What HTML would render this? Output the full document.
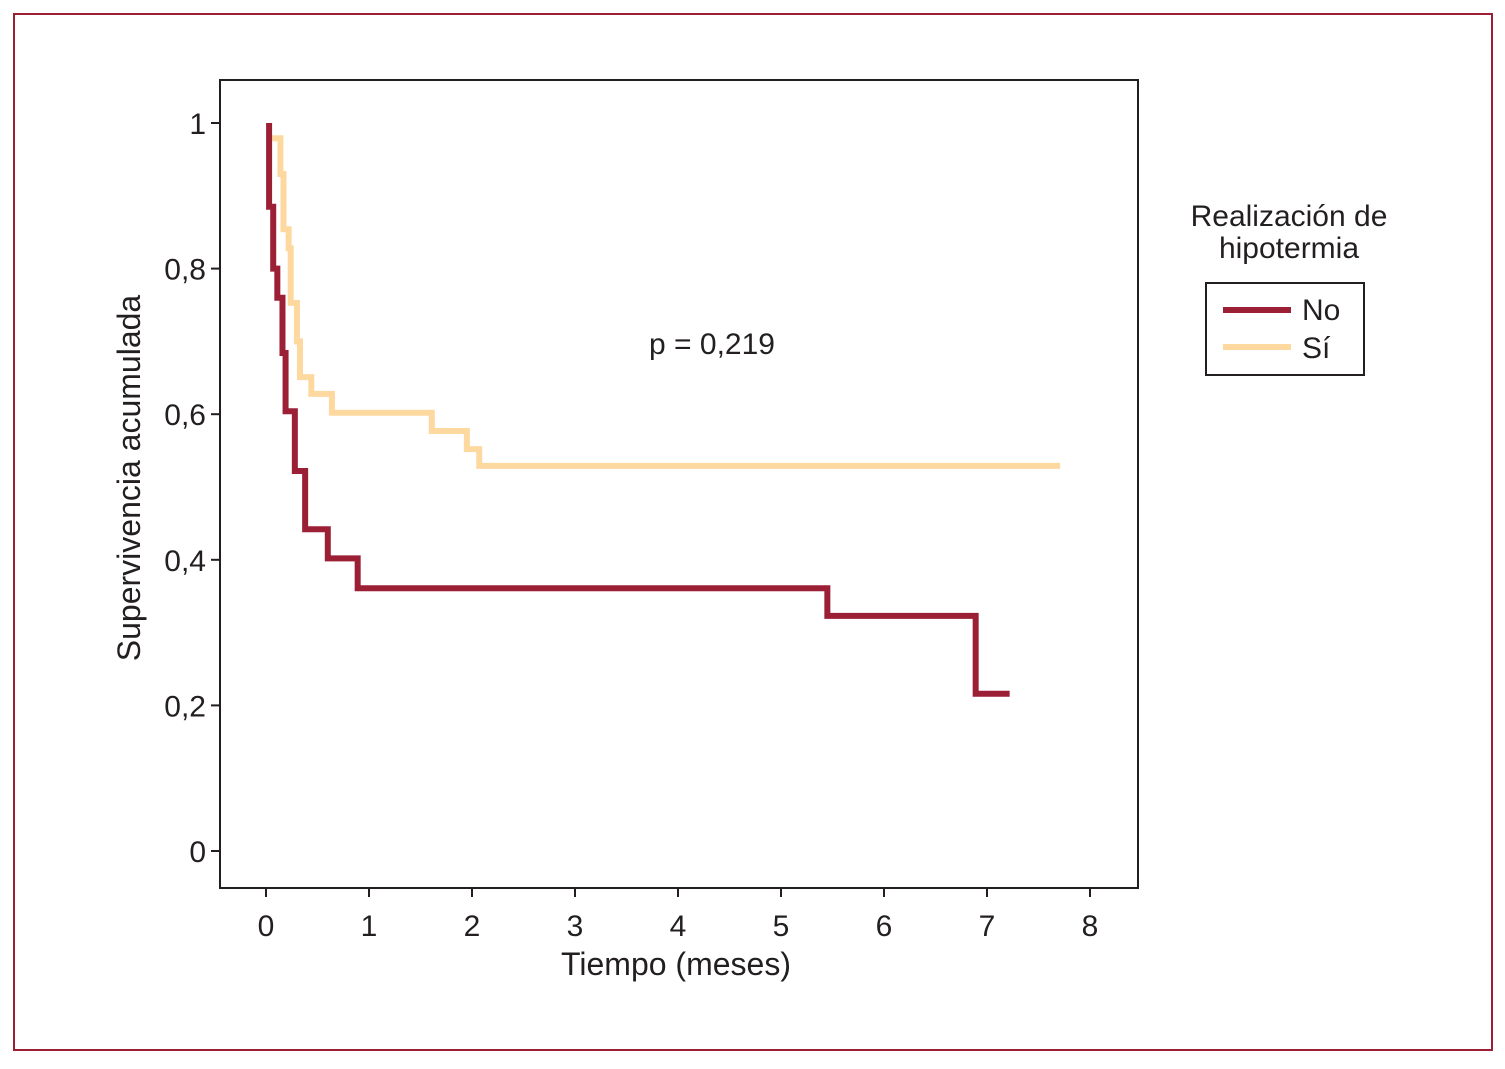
<!DOCTYPE html>
<html><head><meta charset="utf-8"><style>
html,body{margin:0;padding:0;background:#fff;}
svg text{font-family:"Liberation Sans Narrow","Liberation Sans",sans-serif;fill:#231f20;}
</style></head><body>
<svg id="chart" width="1505" height="1064" viewBox="0 0 1505 1064" xmlns="http://www.w3.org/2000/svg">
<rect x="14" y="14" width="1478" height="1036" fill="none" stroke="#9b1f35" stroke-width="2"/>
<rect x="220" y="80" width="918" height="808" fill="none" stroke="#231f20" stroke-width="2"/>
<g id="axes"></g>
<g id="series"></g>
<text x="712" y="354" font-size="30" text-anchor="middle">p = 0,219</text>
<text x="676" y="975" font-size="32" text-anchor="middle">Tiempo (meses)</text>
<text transform="translate(140,478) rotate(-90)" font-size="32" text-anchor="middle">Supervivencia acumulada</text>
<g>
<text x="1289" y="226" font-size="30" text-anchor="middle">Realización de</text>
<text x="1289" y="258" font-size="30" text-anchor="middle">hipotermia</text>
<rect x="1206" y="283" width="158" height="92" fill="none" stroke="#231f20" stroke-width="2"/>
<line x1="1223" y1="310" x2="1291" y2="310" stroke="#9b1f35" stroke-width="6"/>
<text x="1302" y="320" font-size="30">No</text>
<line x1="1223" y1="347" x2="1291" y2="347" stroke="#fdd9a0" stroke-width="6"/>
<text x="1302" y="358" font-size="30">Sí</text>
</g>
</svg>
<script>
const xTicks=[0,1,2,3,4,5,6,7,8];
const yTicks=[0,0.2,0.4,0.6,0.8,1];
const yTickLabels=["0","0,2","0,4","0,6","0,8","1"];
const noTimes=[0.03,0.03,0.07,0.11,0.16,0.19,0.28,0.38,0.6,0.89,5.45,6.89,7.22];
const noSurv=[1.0,0.885,0.80,0.76,0.684,0.604,0.522,0.442,0.402,0.361,0.323,0.216,0.216];
const siTimes=[0.06,0.14,0.17,0.22,0.24,0.30,0.33,0.44,0.64,1.61,1.95,2.07,7.71];
const siSurv=[0.979,0.93,0.854,0.828,0.753,0.70,0.651,0.628,0.602,0.577,0.552,0.529,0.529];
const NS="http://www.w3.org/2000/svg";
function xs(t){return 266+t*103;}
function ys(v){return 851-v*728;}
const axes=document.getElementById('axes');
xTicks.forEach(t=>{
 const l=document.createElementNS(NS,'line');
 l.setAttribute('x1',xs(t));l.setAttribute('x2',xs(t));l.setAttribute('y1',888);l.setAttribute('y2',897);
 l.setAttribute('stroke','#231f20');l.setAttribute('stroke-width','2');
 
 
 axes.appendChild(l);
 const tx=document.createElementNS(NS,'text');
 tx.setAttribute('x',xs(t));tx.setAttribute('y',936);tx.setAttribute('font-size','30');tx.setAttribute('text-anchor','middle');
 tx.textContent=String(t);
 
 
 axes.appendChild(tx);
});
yTicks.forEach((v,i)=>{
 const l=document.createElementNS(NS,'line');
 l.setAttribute('x1',211);l.setAttribute('x2',220);l.setAttribute('y1',ys(v));l.setAttribute('y2',ys(v));
 l.setAttribute('stroke','#231f20');l.setAttribute('stroke-width','2');
 
 
 axes.appendChild(l);
 const tx=document.createElementNS(NS,'text');
 tx.setAttribute('x',206);tx.setAttribute('y',ys(v)+11);tx.setAttribute('font-size','30');tx.setAttribute('text-anchor','end');
 tx.textContent=yTickLabels[i];
 
 
 axes.appendChild(tx);
});
function stepPath(ts,ss){
 let d='M'+xs(ts[0])+' '+ys(ss[0]);
 for(let i=1;i<ts.length;i++){
  d+=' H'+xs(ts[i])+' V'+ys(ss[i]);
 }
 return d;
}
const series=document.getElementById('series');
const pSi=document.createElementNS(NS,'path');
pSi.setAttribute('d',stepPath(siTimes,siSurv));
pSi.setAttribute('fill','none');pSi.setAttribute('stroke','#fdd9a0');pSi.setAttribute('stroke-width','6');


series.appendChild(pSi);
const pNo=document.createElementNS(NS,'path');
pNo.setAttribute('d',stepPath(noTimes,noSurv));
pNo.setAttribute('fill','none');pNo.setAttribute('stroke','#9b1f35');pNo.setAttribute('stroke-width','6');


series.appendChild(pNo);
</script>
</body></html>
